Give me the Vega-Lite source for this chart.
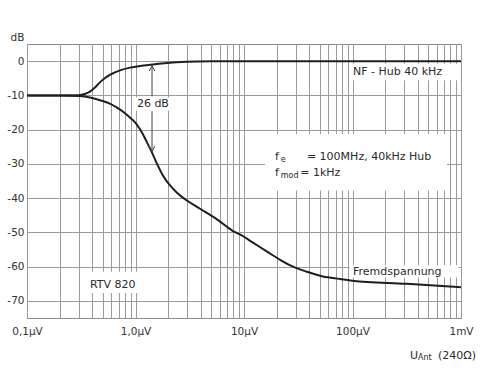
{
  "$schema": "https://vega.github.io/schema/vega-lite/v6.json",
  "width": 434,
  "height": 274,
  "autosize": {"type": "none"},
  "padding": {"left": 27, "top": 44, "right": 19, "bottom": 71},
  "background": "white",
  "config": {
    "view": {"stroke": "#8c8c8c", "strokeWidth": 1},
    "font": "DejaVu Sans"
  },
  "datasets": {
    "curves": [
      {"series": "NF", "v": 0.1, "db": -10},
      {"series": "NF", "v": 0.2, "db": -10},
      {"series": "NF", "v": 0.3, "db": -9.95},
      {"series": "NF", "v": 0.34, "db": -9.6},
      {"series": "NF", "v": 0.38, "db": -8.9},
      {"series": "NF", "v": 0.42, "db": -7.8},
      {"series": "NF", "v": 0.47, "db": -6.2},
      {"series": "NF", "v": 0.52, "db": -5.0},
      {"series": "NF", "v": 0.58, "db": -4.0},
      {"series": "NF", "v": 0.72, "db": -2.7},
      {"series": "NF", "v": 0.89, "db": -1.9},
      {"series": "NF", "v": 1.1, "db": -1.4},
      {"series": "NF", "v": 1.42, "db": -1.0},
      {"series": "NF", "v": 1.95, "db": -0.55},
      {"series": "NF", "v": 3.0, "db": -0.2},
      {"series": "NF", "v": 5.1, "db": -0.05},
      {"series": "NF", "v": 10, "db": 0},
      {"series": "NF", "v": 100, "db": 0},
      {"series": "NF", "v": 1000, "db": 0},
      {"series": "Fremd", "v": 0.1, "db": -10},
      {"series": "Fremd", "v": 0.2, "db": -10},
      {"series": "Fremd", "v": 0.3, "db": -10.2},
      {"series": "Fremd", "v": 0.38, "db": -10.6},
      {"series": "Fremd", "v": 0.47, "db": -11.4},
      {"series": "Fremd", "v": 0.58, "db": -12.4},
      {"series": "Fremd", "v": 0.67, "db": -13.5},
      {"series": "Fremd", "v": 0.8, "db": -15.2},
      {"series": "Fremd", "v": 0.89, "db": -16.5},
      {"series": "Fremd", "v": 1.0, "db": -18.0},
      {"series": "Fremd", "v": 1.1, "db": -19.9},
      {"series": "Fremd", "v": 1.2, "db": -22.0},
      {"series": "Fremd", "v": 1.29, "db": -24.0},
      {"series": "Fremd", "v": 1.42, "db": -26.7},
      {"series": "Fremd", "v": 1.58, "db": -30.0},
      {"series": "Fremd", "v": 1.79, "db": -33.4},
      {"series": "Fremd", "v": 2.08, "db": -36.3},
      {"series": "Fremd", "v": 2.41, "db": -38.4},
      {"series": "Fremd", "v": 2.98, "db": -40.7},
      {"series": "Fremd", "v": 3.93, "db": -43.1},
      {"series": "Fremd", "v": 5.64, "db": -46.2},
      {"series": "Fremd", "v": 7.92, "db": -49.6},
      {"series": "Fremd", "v": 9.18, "db": -50.6},
      {"series": "Fremd", "v": 12.1, "db": -53.0},
      {"series": "Fremd", "v": 16.3, "db": -55.6},
      {"series": "Fremd", "v": 21.5, "db": -58.0},
      {"series": "Fremd", "v": 28.3, "db": -60.0},
      {"series": "Fremd", "v": 38.1, "db": -61.5},
      {"series": "Fremd", "v": 53.5, "db": -62.9},
      {"series": "Fremd", "v": 76.7, "db": -63.6},
      {"series": "Fremd", "v": 100, "db": -64.1},
      {"series": "Fremd", "v": 315, "db": -65.0},
      {"series": "Fremd", "v": 1000, "db": -66.0}
    ],
    "boxes": [
      {"v": 94, "v2": 950, "db": -0.8, "db2": -5.6},
      {"v": 15.6, "v2": 743, "db": -21.3, "db2": -37.8},
      {"v": 94, "v2": 950, "db": -59.6, "db2": -63.2},
      {"v": 0.36, "v2": 1.15, "db": -61.5, "db2": -67.7},
      {"v": 1.0, "v2": 2.05, "db": -10.6, "db2": -14.4}
    ],
    "labels": [
      {"t": "NF - Hub 40 kHz", "v": 101, "db": -3.2},
      {"t": "26 dB", "v": 1.03, "db": -12.4},
      {"t": "f", "v": 19.3, "db": -28.1},
      {"t": "= 100MHz, 40kHz Hub", "v": 38, "db": -28.1},
      {"t": "f", "v": 19.3, "db": -32.7},
      {"t": "= 1kHz", "v": 33, "db": -32.7},
      {"t": "Fremdspannung", "v": 101, "db": -61.6},
      {"t": "RTV 820", "v": 0.38, "db": -65.5},
      {"t": "U", "v": 339, "db": -86},
      {"t": "(240Ω)", "v": 614, "db": -86}
    ],
    "subs": [
      {"t": "e", "v": 21.8, "db": -29},
      {"t": "mod", "v": 21.8, "db": -33.5},
      {"t": "Ant", "v": 402, "db": -86.8}
    ],
    "arrow": [
      {"v": 1.42, "db": -1.3, "db2": -10.3},
      {"v": 1.42, "db": -14.6, "db2": -26.4}
    ],
    "heads": [
      {"v": 1.42, "db": -2.1, "dir": "up"},
      {"v": 1.42, "db": -25.6, "dir": "down"}
    ]
  },
  "encoding": {
    "x": {
      "field": "v", "type": "quantitative",
      "scale": {"type": "log", "domain": [0.1, 1000], "nice": false},
      "title": null,
      "axis": {
        "values": [0.1, 0.2, 0.3, 0.4, 0.5, 0.6, 0.7, 0.8, 0.9, 1, 2, 3, 4, 5, 6, 7, 8, 9, 10, 20, 30, 40, 50, 60, 70, 80, 90, 100, 200, 300, 400, 500, 600, 700, 800, 900, 1000],
        "grid": true, "gridColor": "#9a9a9a", "gridWidth": 1,
        "domain": false, "ticks": false,
        "labelExpr": "datum.value == 0.1 ? '0,1µV' : datum.value == 1 ? '1,0µV' : datum.value == 10 ? '10µV' : datum.value == 100 ? '100µV' : datum.value == 1000 ? '1mV' : ''",
        "labelFontSize": 10.5, "labelColor": "#333", "labelPadding": 8,
        "labelOverlap": false, "labelFlush": false, "labelBound": false
      }
    },
    "y": {
      "field": "db", "type": "quantitative",
      "scale": {"domain": [-75, 5], "nice": false, "zero": false},
      "title": "dB",
      "axis": {
        "values": [0, -10, -20, -30, -40, -50, -60, -70],
        "grid": true, "gridColor": "#9a9a9a", "gridWidth": 1,
        "domain": false, "ticks": false,
        "labelExpr": "datum.value + ''",
        "labelFontSize": 10.5, "labelColor": "#333", "labelPadding": 3,
        "titleAngle": 0, "titleX": -10, "titleY": -2,
        "titleAlign": "center", "titleBaseline": "bottom",
        "titleFontWeight": "normal", "titleFontSize": 10.5, "titleColor": "#333"
      }
    }
  },
  "layer": [
    {
      "data": {"name": "boxes"},
      "mark": {"type": "rect", "fill": "white", "stroke": null},
      "encoding": {
        "x2": {"field": "v2"},
        "y2": {"field": "db2"}
      }
    },
    {
      "data": {"name": "curves"},
      "mark": {"type": "line", "color": "#1e1e1e", "strokeWidth": 2, "interpolate": "monotone"},
      "encoding": {
        "detail": {"field": "series"}
      }
    },
    {
      "data": {"name": "arrow"},
      "mark": {"type": "rule", "color": "#444", "strokeWidth": 1},
      "encoding": {
        "y2": {"field": "db2"}
      }
    },
    {
      "data": {"name": "heads"},
      "mark": {"type": "point", "filled": false, "color": "#444", "strokeWidth": 1, "size": 30, "opacity": 1},
      "encoding": {
        "shape": {"field": "dir", "type": "nominal", "scale": {"domain": ["up", "down"], "range": ["M-1,1L0,-1L1,1", "M-1,-1L0,1L1,-1"]}, "legend": null}
      }
    },
    {
      "data": {"name": "labels"},
      "mark": {"type": "text", "align": "left", "baseline": "middle", "fontSize": 11, "color": "#2a2a2a"},
      "encoding": {
        "text": {"field": "t"}
      }
    },
    {
      "data": {"name": "subs"},
      "mark": {"type": "text", "align": "left", "baseline": "middle", "fontSize": 8, "color": "#2a2a2a"},
      "encoding": {
        "text": {"field": "t"}
      }
    }
  ]
}
